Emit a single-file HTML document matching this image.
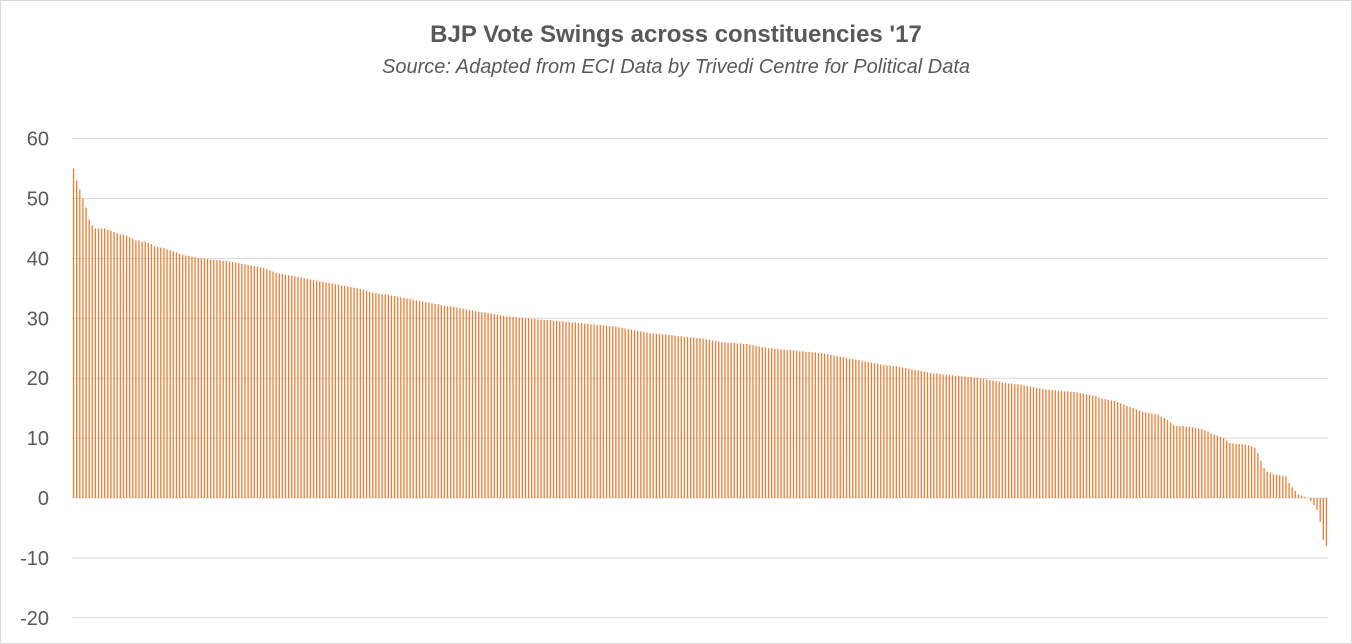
<!DOCTYPE html>
<html><head><meta charset="utf-8"><style>
body{margin:0;background:#fff;}
svg{display:block;font-family:"Liberation Sans",Arial,sans-serif;}
</style></head><body>
<svg id="chart" width="1352" height="644">
<rect x="0.5" y="0.5" width="1351" height="643" fill="#fff" stroke="#d9d9d9"/>
<text x="676" y="42" text-anchor="middle" font-size="24" font-weight="bold" fill="#595959">BJP Vote Swings across constituencies '17</text>
<text x="676" y="73" text-anchor="middle" font-size="20" font-style="italic" fill="#595959">Source: Adapted from ECI Data by Trivedi Centre for Political Data</text>
<g id="grid"></g><g id="bars"></g><g id="ylabels"></g>
</svg>
<script>
const yTicks=[60,50,40,30,20,10,0,-10,-20];
const swings=[55,53,51.5,50,48.5,46.5,45.5,45,45,45,
45,44.8,44.6,44.4,44.2,44,44,43.8,43.5,43.3,
43,43,42.8,42.8,42.6,42.4,42,41.9,41.8,41.7,
41.5,41.4,41.2,41,40.8,40.6,40.5,40.4,40.3,40.2,
40.1,40,40,39.9,39.8,39.8,39.7,39.7,39.6,39.6,
39.5,39.4,39.3,39.2,39.1,39,38.9,38.8,38.7,38.6,
38.5,38.4,38.2,38,37.8,37.6,37.5,37.4,37.3,37.2,
37.1,37,36.9,36.8,36.7,36.6,36.5,36.4,36.3,36.2,
36.1,36,35.9,35.8,35.7,35.6,35.5,35.4,35.3,35.2,
35.1,35,34.9,34.8,34.6,34.4,34.3,34.2,34.1,34,
34,33.9,33.8,33.7,33.6,33.5,33.4,33.3,33.2,33.1,
33,32.9,32.8,32.7,32.6,32.5,32.4,32.3,32.2,32.1,
32,32,31.9,31.8,31.7,31.6,31.5,31.4,31.3,31.2,
31.1,31,31,30.9,30.8,30.7,30.6,30.5,30.4,30.3,
30.3,30.2,30.2,30.1,30.1,30,30,29.9,29.9,29.8,
29.8,29.7,29.7,29.7,29.6,29.6,29.5,29.5,29.4,29.4,
29.3,29.3,29.2,29.2,29.1,29.1,29,29,28.9,28.9,
28.8,28.8,28.7,28.7,28.6,28.5,28.4,28.3,28.2,28.1,
28,27.9,27.8,27.7,27.6,27.5,27.5,27.4,27.4,27.3,
27.3,27.2,27.2,27.1,27,27,26.9,26.9,26.8,26.8,
26.7,26.7,26.6,26.5,26.4,26.3,26.2,26.1,26,26,
25.9,25.9,25.9,25.8,25.8,25.7,25.7,25.6,25.5,25.4,
25.3,25.2,25.1,25,25,24.9,24.9,24.8,24.8,24.7,
24.7,24.6,24.6,24.5,24.5,24.4,24.4,24.3,24.3,24.2,
24.2,24.1,24,23.9,23.8,23.7,23.6,23.5,23.4,23.3,
23.2,23.1,23,22.9,22.8,22.7,22.6,22.5,22.4,22.3,
22.2,22.1,22.1,22,22,21.9,21.8,21.7,21.6,21.5,
21.4,21.3,21.2,21.1,21,20.9,20.8,20.8,20.7,20.6,
20.6,20.5,20.5,20.4,20.4,20.3,20.3,20.2,20.2,20.1,
20.1,20,19.9,19.8,19.7,19.6,19.5,19.4,19.3,19.2,
19.1,19.1,19,19,18.9,18.8,18.7,18.6,18.5,18.4,
18.3,18.2,18.1,18.1,18,18,17.9,17.9,17.8,17.8,
17.7,17.7,17.6,17.5,17.4,17.3,17.2,17.1,17,16.8,
16.6,16.5,16.4,16.3,16.2,16,15.8,15.6,15.4,15.2,
15,14.8,14.6,14.4,14.3,14.2,14.1,14,13.9,13.6,
13.4,13,12.6,12.2,12,12,12,11.9,11.9,11.8,
11.7,11.6,11.5,11.3,11.1,10.8,10.6,10.4,10.2,10,
9.6,9.2,9.1,9,9,9,8.9,8.8,8.6,8.4,
7.5,6.2,5,4.4,4.2,4,3.9,3.8,3.7,3.6,
2.5,1.8,1.2,0.6,0.4,0.2,0,-0.5,-1.2,-2,
-4,-7,-8];
const NS="http://www.w3.org/2000/svg";
const x0=72,x1=1328;
function yScale(v){return 498-v*5.99;}
function xScale(i){return x0+(x1-x0)*(i+0.5)/swings.length;}
const grid=document.getElementById('grid'),yl=document.getElementById('ylabels'),bars=document.getElementById('bars');
yTicks.forEach(t=>{
 const l=document.createElementNS(NS,'line');
 l.setAttribute('x1',x0);l.setAttribute('x2',x1);l.setAttribute('y1',yScale(t));l.setAttribute('y2',yScale(t));
 l.setAttribute('stroke','#d9d9d9');l.setAttribute('stroke-width','1');
 
 
 grid.appendChild(l);
 const tx=document.createElementNS(NS,'text');
 tx.setAttribute('x',49);tx.setAttribute('y',yScale(t)+7);tx.setAttribute('text-anchor','end');
 tx.setAttribute('font-size','20');tx.setAttribute('fill','#595959');tx.textContent=t;
 
 
 yl.appendChild(tx);
});
swings.forEach((v,i)=>{
 const r=document.createElementNS(NS,'rect');
 const y=Math.min(yScale(v),yScale(0)),h=Math.abs(yScale(v)-yScale(0));
 r.setAttribute('x',xScale(i)-0.65);r.setAttribute('width',1.3);
 r.setAttribute('y',y);r.setAttribute('height',h);r.setAttribute('fill','#ED7D31');
 
 
 bars.appendChild(r);
});
</script>
</body></html>
